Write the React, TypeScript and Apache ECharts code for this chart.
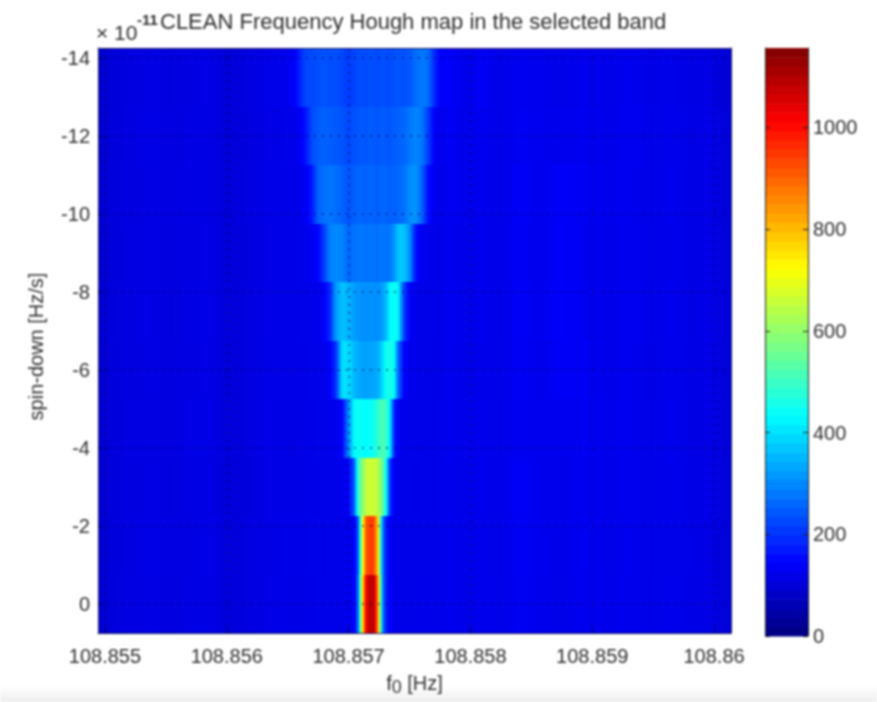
import React, { useEffect, useRef } from "react";
import * as echarts from "echarts";

const FONT = "'Liberation Sans', Arial, sans-serif";
const TEXT = "#2e2e2e";

const titleText = "CLEAN Frequency Hough map in the selected band";
const xName = "f{sub|0} [Hz]";
const yName = "spin-down [Hz/s]";
const xTicks = [108.855, 108.856, 108.857, 108.858, 108.859, 108.86];
const yTicks = [-14, -12, -10, -8, -6, -4, -2, 0];
const colorTicks = [0, 200, 400, 600, 800, 1000];
const colorMax = 1156;

const frequencies = [
  108.854943, 108.855082, 108.855205, 108.855369, 108.855534, 108.855698, 108.855862, 108.856026,
  108.85619, 108.856355, 108.856478,
  108.85656, 108.856601, 108.85665, 108.856699, 108.856749, 108.856798, 108.856847, 108.856897,
  108.856946, 108.856995, 108.857044, 108.857077, 108.85711, 108.857143, 108.857176, 108.857208,
  108.857241, 108.857274, 108.857307, 108.85734, 108.857373, 108.857406, 108.857455, 108.857504,
  108.857553, 108.857603, 108.857652, 108.857701, 108.85775,
  108.857832, 108.857956, 108.858079, 108.858243, 108.858407, 108.858571, 108.858736, 108.858941,
  108.859146, 108.85931, 108.859474, 108.859639, 108.859803, 108.859967, 108.860139,
];

const spinDowns = [0, -1.5, -3, -4.5, -6, -7.5, -9, -10.5, -12, -13.5];
const bandHalf = 0.75;

const band0 = [
  92, 108, 112, 114, 110, 114, 116, 104, 110, 116, 118,
  116, 116, 118, 118, 120, 120, 120, 120, 120, 122, 135, 255, 705, 1020, 1090, 1085, 855, 335, 172, 138, 125, 122, 122, 120, 120, 122, 120, 122, 120,
  128, 118, 125, 120, 132, 125, 120, 128, 122, 126, 118, 124, 116, 116, 98,
];
const band1 = [
  94, 106, 112, 116, 112, 112, 118, 102, 112, 114, 118,
  118, 118, 116, 120, 120, 118, 122, 120, 120, 122, 132, 235, 655, 915, 945, 935, 765, 325, 172, 135, 125, 122, 120, 122, 118, 122, 120, 120, 122,
  126, 120, 124, 118, 134, 126, 122, 130, 120, 128, 118, 122, 118, 114, 100,
];
const band2 = [
  90, 108, 110, 114, 108, 114, 114, 100, 108, 116, 116,
  116, 116, 118, 118, 118, 120, 120, 120, 122, 135, 240, 480, 580, 650, 670, 665, 640, 570, 440, 200, 132, 122, 120, 120, 118, 120, 120, 118, 120,
  126, 118, 126, 120, 136, 124, 122, 128, 122, 126, 120, 124, 116, 118, 98,
];
const band3 = [
  92, 106, 112, 112, 110, 116, 116, 102, 110, 118, 116,
  115, 116, 118, 118, 120, 120, 120, 125, 138, 290, 430, 450, 440, 430, 440, 450, 490, 520, 505, 410, 190, 132, 122, 120, 120, 120, 118, 118, 120,
  128, 120, 125, 118, 130, 125, 126, 130, 124, 128, 118, 126, 114, 116, 100,
];
const band4 = [
  90, 108, 110, 114, 110, 112, 116, 100, 112, 116, 118,
  115, 118, 118, 120, 120, 122, 138, 200, 395, 400, 355, 340, 330, 325, 330, 330, 345, 385, 450, 460, 440, 270, 140, 122, 120, 120, 118, 118, 118,
  128, 118, 124, 120, 134, 122, 138, 132, 122, 128, 116, 124, 116, 118, 98,
];
const band5 = [
  92, 108, 112, 116, 108, 114, 118, 102, 110, 118, 118,
  118, 118, 120, 120, 124, 135, 190, 320, 365, 350, 325, 315, 310, 305, 312, 308, 305, 320, 355, 430, 450, 425, 215, 135, 122, 120, 120, 118, 118,
  130, 120, 128, 118, 136, 126, 140, 130, 120, 130, 118, 126, 114, 120, 100,
];
const band6 = [
  90, 106, 112, 114, 110, 112, 116, 100, 110, 116, 118,
  118, 120, 122, 130, 145, 215, 290, 300, 295, 262, 272, 278, 280, 272, 280, 275, 272, 280, 275, 280, 310, 365, 370, 300, 160, 128, 122, 120, 118,
  130, 118, 126, 120, 134, 124, 142, 128, 122, 128, 120, 124, 116, 118, 98,
];
const band7 = [
  92, 108, 110, 114, 112, 114, 114, 102, 112, 118, 118,
  118, 122, 135, 170, 255, 272, 278, 268, 258, 240, 252, 258, 260, 252, 262, 256, 252, 262, 256, 252, 256, 260, 272, 305, 312, 255, 160, 128, 120,
  132, 122, 128, 118, 136, 125, 138, 130, 124, 128, 118, 126, 116, 116, 100,
];
const band8 = [
  90, 106, 112, 116, 110, 114, 116, 100, 110, 116, 118,
  122, 132, 170, 228, 248, 255, 250, 245, 240, 225, 236, 240, 245, 240, 250, 245, 240, 250, 245, 240, 250, 254, 260, 282, 295, 280, 215, 142, 122,
  135, 120, 130, 118, 132, 126, 124, 128, 122, 130, 118, 124, 114, 118, 98,
];
const band9 = [
  90, 104, 110, 114, 108, 112, 116, 100, 112, 118, 122,
  140, 185, 225, 225, 232, 240, 230, 235, 225, 210, 222, 228, 232, 226, 236, 232, 226, 236, 232, 226, 236, 240, 236, 246, 268, 282, 270, 195, 138,
  140, 122, 134, 120, 128, 124, 120, 126, 120, 128, 116, 122, 114, 116, 96,
];
const bands = [band0, band1, band2, band3, band4, band5, band6, band7, band8, band9];

// Rendering helper: MATLAB's jet colormap
function jet(value: number): string {
  const t = Math.max(0, Math.min(1, value / colorMax));
  const ch = (c: number) => Math.round(255 * Math.max(0, Math.min(1, 1.5 - Math.abs(4 * t - c))));
  return `rgb(${ch(3)},${ch(2)},${ch(1)})`;
}

const heatRows: number[][] = [];
bands.forEach((vals, b) => {
  for (let i = 0; i < frequencies.length - 1; i++) {
    heatRows.push([frequencies[i], frequencies[i + 1], spinDowns[b], vals[i], vals[i + 1]]);
  }
});

const colorLevels = Array.from({ length: 64 }, (_, i) => [
  (i * colorMax) / 64,
  ((i + 1) * colorMax) / 64,
]);

function renderHeat(_p: any, api: any) {
  const x0 = api.value(0), x1 = api.value(1), y = api.value(2), v0 = api.value(3), v1 = api.value(4);
  const a = api.coord([x0, y - bandHalf]);
  const b = api.coord([x1, y + bandHalf]);
  const left = Math.round(a[0]), right = Math.round(b[0]);
  const top = Math.round(a[1]), bottom = Math.round(b[1]);
  const colorStops = [0, 0.25, 0.5, 0.75, 1].map((o) => ({ offset: o, color: jet(v0 + (v1 - v0) * o) }));
  return {
    type: "rect",
    shape: { x: left, y: top, width: right - left, height: bottom - top },
    style: { fill: { type: "linear", x: 0, y: 0, x2: 1, y2: 0, colorStops } },
  };
}

function renderLevel(_p: any, api: any) {
  const lo = api.value(0), hi = api.value(1);
  const a = api.coord([0, hi]);
  const b = api.coord([1, lo]);
  return {
    type: "rect",
    shape: { x: a[0], y: a[1], width: b[0] - a[0], height: b[1] - a[1] + 0.5 },
    style: { fill: jet((lo + hi) / 2) },
  };
}

const labelStyle = { color: TEXT, fontFamily: FONT, fontSize: 20 };
const edge = { show: true, onZero: false, lineStyle: { color: "#1c1c60", width: 1 } };
const barEdge = { show: true, onZero: false, lineStyle: { color: "#222222", width: 1 } };
const gridDots = {
  show: true,
  lineStyle: { color: "#00005a", opacity: 0.65, type: [2, 6] as number[], width: 1.5 },
};

export default function App() {
  const ref = useRef<HTMLDivElement>(null);
  useEffect(() => {
    if (!ref.current) return;
    const chart = echarts.init(ref.current, undefined, { renderer: "svg" });
    chart.setOption({
      animation: false,
      backgroundColor: "#ffffff",
      title: {
        text: titleText,
        left: 155,
        top: 5,
        textStyle: { color: TEXT, fontFamily: FONT, fontSize: 22, fontWeight: "normal" },
      },
      graphic: [
        {
          type: "rect",
          z: -1,
          shape: { x: 0, y: 686, width: 877, height: 16 },
          style: {
            fill: {
              type: "linear", x: 0, y: 0, x2: 0, y2: 1,
              colorStops: [{ offset: 0, color: "#ffffff" }, { offset: 1, color: "#eeeeee" }],
            },
          },
        },
        { type: "text", x: 96, y: 22, style: { text: "× 10", fill: TEXT, font: `21px ${FONT}` } },
        { type: "text", x: 137, y: 12, style: { text: "-11", fill: TEXT, font: `bold 15px ${FONT}` } },
      ],
      grid: [
        { left: 98, top: 48, width: 633, height: 585, containLabel: false, outerBoundsMode: "none" },
        { left: 765, top: 48, width: 43, height: 588, containLabel: false, outerBoundsMode: "none" },
      ],
      xAxis: [
        {
          type: "value",
          gridIndex: 0,
          min: frequencies[0],
          max: frequencies[frequencies.length - 1],
          z: 5,
          name: xName,
          nameLocation: "middle",
          nameGap: 36,
          nameTextStyle: {
            color: TEXT, fontFamily: FONT, fontSize: 20,
            rich: { sub: { fontSize: 18, fontFamily: FONT, color: TEXT, padding: [9, 0, 0, 0] } },
          },
          axisLine: edge,
          axisTick: { show: true, inside: true, length: 5, customValues: xTicks, lineStyle: { color: "#00005a" } },
          axisLabel: {
            ...labelStyle,
            margin: 13,
            customValues: xTicks,
            hideOverlap: false,
            showMinLabel: true,
            showMaxLabel: true,
            formatter: (v: number) => String(parseFloat(v.toFixed(3))),
          },
          splitLine: gridDots,
        },
        { type: "value", gridIndex: 1, min: 0, max: 1, show: false },
        {
          type: "value",
          gridIndex: 0,
          position: "top",
          min: frequencies[0],
          max: frequencies[frequencies.length - 1],
          z: 5,
          axisLine: edge,
          axisTick: { show: false },
          axisLabel: { show: false },
          splitLine: { show: false },
        },
      ],
      yAxis: [
        {
          type: "value",
          gridIndex: 0,
          inverse: true,
          min: spinDowns[spinDowns.length - 1] - bandHalf,
          max: spinDowns[0] + bandHalf,
          z: 5,
          name: yName,
          nameLocation: "middle",
          nameGap: 52,
          nameRotate: 90,
          nameTextStyle: { color: TEXT, fontFamily: FONT, fontSize: 20, padding: [0, 12, 0, 0] },
          axisLine: edge,
          axisTick: { show: true, inside: true, length: 5, customValues: yTicks, lineStyle: { color: "#00005a" } },
          axisLabel: { ...labelStyle, margin: 8, customValues: yTicks, formatter: (v: number) => String(v) },
          splitLine: gridDots,
        },
        {
          type: "value",
          gridIndex: 1,
          position: "right",
          min: 0,
          max: colorMax,
          z: 5,
          axisLine: barEdge,
          axisTick: { show: true, inside: true, length: 5, customValues: colorTicks, lineStyle: { color: "#222222" } },
          axisLabel: { ...labelStyle, margin: 5, customValues: colorTicks, formatter: (v: number) => String(v) },
          splitLine: { show: false },
        },
        {
          type: "value",
          gridIndex: 1,
          position: "left",
          min: 0,
          max: colorMax,
          z: 5,
          axisLine: barEdge,
          axisTick: { show: true, inside: true, length: 5, customValues: colorTicks, lineStyle: { color: "#222222" } },
          axisLabel: { show: false },
          splitLine: { show: false },
        },
        {
          type: "value",
          gridIndex: 0,
          position: "right",
          inverse: true,
          min: spinDowns[spinDowns.length - 1] - bandHalf,
          max: spinDowns[0] + bandHalf,
          z: 5,
          axisLine: edge,
          axisTick: { show: false },
          axisLabel: { show: false },
          splitLine: { show: false },
        },
      ],
      series: [
        {
          type: "custom",
          xAxisIndex: 0,
          yAxisIndex: 0,
          silent: true,
          renderItem: renderHeat,
          encode: { x: [0, 1], y: 2 },
          data: heatRows,
        },
        {
          type: "custom",
          xAxisIndex: 1,
          yAxisIndex: 1,
          silent: true,
          renderItem: renderLevel,
          encode: { y: [0, 1] },
          data: colorLevels,
        },
      ],
    });
    return () => chart.dispose();
  }, []);
  return (
    <div
      ref={ref}
      style={{ position: "fixed", left: 0, top: 0, width: 877, height: 702, filter: "blur(0.8px)" }}
    />
  );
}
